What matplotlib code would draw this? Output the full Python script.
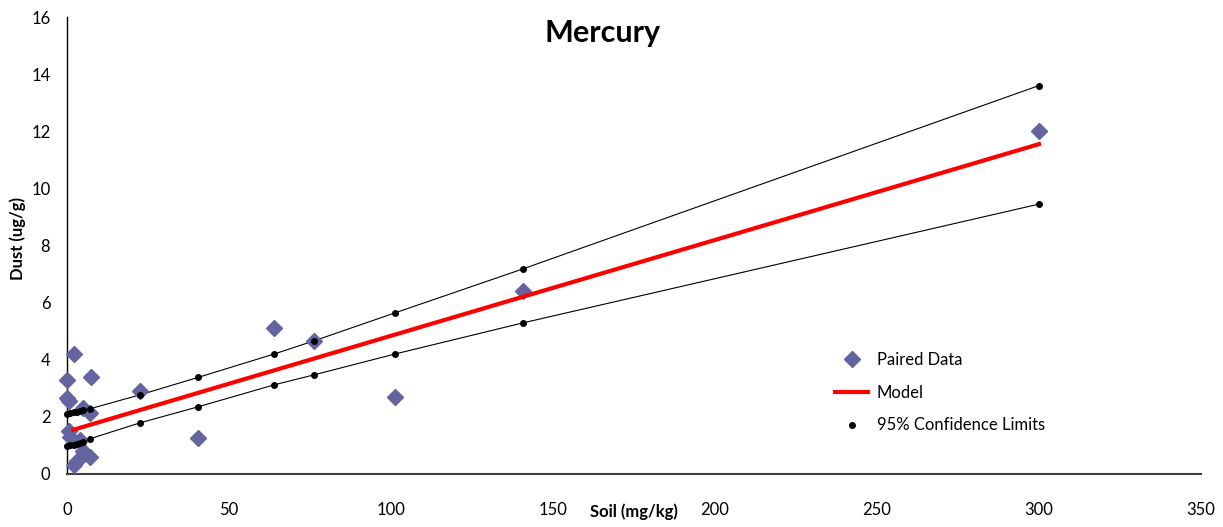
import matplotlib.pyplot as plt
import numpy as np

plt.rcParams['font.family'] = ['Lato', 'DejaVu Sans']

# paired data
soil = [0, 0, 0.5, 0.5, 1, 2.2, 2, 3, 4, 5, 5, 7, 7, 7.4, 22.5, 40.4, 63.9, 76.2, 101.2, 140.7, 300]
dust = [3.3, 2.65, 2.55, 1.5, 1.3, 4.2, 0.3, 0.45, 1.2, 2.3, 0.8, 2.15, 0.6, 3.4, 2.9, 1.25, 5.1, 4.65, 2.7, 6.4, 12.0]

# model line
model_x = [2, 300]
model_y = [1.55, 11.55]

# confidence limits
ci_x = [0, 1, 2, 3, 4, 5, 7, 22.5, 40.4, 63.9, 76.2, 101.2, 140.7, 300]
ci_upper = [2.1, 2.13, 2.16, 2.18, 2.2, 2.23, 2.28, 2.77, 3.38, 4.2, 4.66, 5.64, 7.18, 13.6]
ci_lower = [0.97, 1.0, 1.03, 1.06, 1.08, 1.12, 1.23, 1.79, 2.35, 3.12, 3.47, 4.2, 5.29, 9.45]

fig = plt.figure(figsize=(12.23, 5.27), dpi=100)
ax = fig.add_axes([0.0548, 0.1006, 0.9272, 0.8671])

ax.plot(ci_x, ci_upper, color='black', lw=0.8, zorder=2)
ax.plot(ci_x, ci_lower, color='black', lw=0.8, zorder=2)
ax.plot(soil, dust, 'D', color='#6464A0', ms=8, ls='none', label='Paired Data',
        zorder=3, clip_on=False)
ax.plot(model_x, model_y, color='red', lw=3, label='Model', zorder=4)
ax.plot(ci_x + ci_x, ci_upper + ci_lower, 'o', color='black', ms=4, ls='none',
        label='95% Confidence Limits', zorder=5, clip_on=False)

ax.set_xlim(0, 350)
ax.set_ylim(0, 16)
ax.set_xticks(np.arange(0, 351, 50))
ax.set_yticks(np.arange(0, 17, 2))
ax.tick_params(axis='x', length=0, pad=20, labelsize=12)
ax.tick_params(axis='y', length=0, pad=12, labelsize=12)
for s in ['top', 'right']:
    ax.spines[s].set_visible(False)
ax.spines['left'].set_linewidth(1.0)
ax.spines['bottom'].set_linewidth(1.5)
ax.spines['bottom'].set_color('#404040')

fig.text(603 / 1223, 1 - 33 / 527, 'Mercury', ha='center', va='center',
         fontsize=22, fontweight='bold')
fig.text(634 / 1223, 1 - 512 / 527, 'Soil (mg/kg)', ha='center', va='center',
         fontsize=12, fontweight='bold')
fig.text(18 / 1223, 1 - 238 / 527, 'Dust (ug/g)', ha='center', va='center',
         rotation=90, fontsize=12, fontweight='bold')

ax.legend(loc='upper left', bbox_to_anchor=(820 / 1223, 1 - 337 / 527),
          bbox_transform=fig.transFigure, frameon=False, fontsize=12,
          handlelength=2.0, handletextpad=0.5, labelspacing=1.0)

fig.savefig('out.png', dpi=100)
